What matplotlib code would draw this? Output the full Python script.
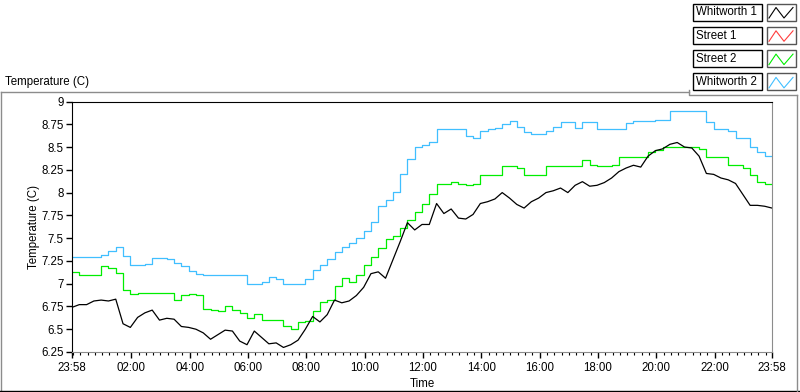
import numpy as np
import pandas as pd
import matplotlib
matplotlib.use("Agg")
import matplotlib.pyplot as plt
import matplotlib.dates as mdates
from matplotlib.patches import Rectangle
from matplotlib.ticker import FuncFormatter

plt.rcParams['font.family'] = ['Liberation Sans', 'DejaVu Sans']
plt.rcParams['font.size'] = 8.3

series_names = ["Whitworth 1", "Street 1", "Street 2", "Whitworth 2"]
series_colors = ["#000000", "#FF3C3C", "#00EE00", "#40BFFF"]

# readings every 15 minutes from 23:58
whitworth_1 = [
    6.74, 6.77, 6.77, 6.81, 6.82, 6.81, 6.83, 6.56, 6.52, 6.63,
    6.68, 6.71, 6.60, 6.62, 6.61, 6.53, 6.52, 6.50, 6.46, 6.39,
    6.44, 6.49, 6.48, 6.37, 6.33, 6.48, 6.41, 6.34, 6.35, 6.30,
    6.33, 6.38, 6.50, 6.64, 6.58, 6.66, 6.82, 6.79, 6.81, 6.87,
    6.96, 7.11, 7.13, 7.06, 7.26, 7.46, 7.67, 7.59, 7.65, 7.65,
    7.88, 7.77, 7.82, 7.72, 7.71, 7.76, 7.88, 7.90, 7.93, 8.00,
    7.94, 7.87, 7.83, 7.90, 7.94, 8.00, 8.02, 8.05, 8.00, 8.08,
    8.12, 8.07, 8.08, 8.11, 8.16, 8.23, 8.27, 8.30, 8.28, 8.40,
    8.46, 8.48, 8.53, 8.55, 8.50, 8.49, 8.40, 8.21, 8.20, 8.16,
    8.14, 8.10, 7.98, 7.86, 7.86, 7.85, 7.83,
]
street_2 = [
    7.13, 7.10, 7.10, 7.10, 7.19, 7.17, 7.12, 6.93, 6.89, 6.90,
    6.90, 6.90, 6.90, 6.90, 6.82, 6.88, 6.89, 6.88, 6.72, 6.71,
    6.70, 6.75, 6.71, 6.68, 6.62, 6.67, 6.60, 6.60, 6.60, 6.54,
    6.50, 6.58, 6.59, 6.70, 6.80, 6.82, 6.98, 7.06, 7.02, 7.10,
    7.20, 7.29, 7.39, 7.49, 7.52, 7.61, 7.70, 7.79, 7.88, 7.99,
    8.09, 8.09, 8.12, 8.09, 8.08, 8.09, 8.19, 8.19, 8.19, 8.29,
    8.29, 8.27, 8.19, 8.19, 8.19, 8.29, 8.29, 8.29, 8.29, 8.29,
    8.36, 8.30, 8.29, 8.29, 8.30, 8.39, 8.39, 8.39, 8.39, 8.45,
    8.47, 8.50, 8.50, 8.50, 8.50, 8.50, 8.48, 8.39, 8.39, 8.39,
    8.30, 8.30, 8.27, 8.19, 8.12, 8.09, 8.09,
]
whitworth_2 = [
    7.29, 7.29, 7.29, 7.29, 7.31, 7.36, 7.40, 7.30, 7.21, 7.20,
    7.22, 7.28, 7.28, 7.27, 7.23, 7.19, 7.14, 7.11, 7.10, 7.10,
    7.10, 7.10, 7.10, 7.10, 7.00, 7.00, 7.02, 7.07, 7.05, 7.00,
    7.00, 7.00, 7.05, 7.15, 7.20, 7.27, 7.35, 7.40, 7.45, 7.50,
    7.58, 7.68, 7.85, 7.92, 8.01, 8.20, 8.37, 8.50, 8.52, 8.56,
    8.70, 8.70, 8.70, 8.70, 8.62, 8.60, 8.68, 8.70, 8.71, 8.75,
    8.79, 8.72, 8.66, 8.64, 8.64, 8.68, 8.72, 8.78, 8.78, 8.71,
    8.78, 8.77, 8.70, 8.70, 8.70, 8.70, 8.76, 8.79, 8.79, 8.79,
    8.80, 8.80, 8.90, 8.90, 8.90, 8.90, 8.90, 8.78, 8.70, 8.70,
    8.68, 8.60, 8.60, 8.50, 8.45, 8.40, 8.40,
]

times = pd.date_range("2013-03-01 23:58", periods=len(whitworth_1), freq="15min")

W, H = 800, 392
fig = plt.figure(figsize=(W / 100, H / 100), dpi=100)

# panel frame / legend drawn in pixel coordinates
frame = fig.add_axes([0, 0, 1, 1])
frame.set_xlim(0, W)
frame.set_ylim(H, 0)
frame.axis('off')
gray = "#8c8c8c"
frame.plot([0.5, 689], [92, 92], color=gray, lw=1)
frame.plot([0.5, 0.5], [92, H], color=gray, lw=1)
frame.plot([0, W], [391, 391], color="black", lw=1)
frame.plot([689, 689, 797], [90, 95, 95], color=gray, lw=1)
frame.plot([797, 797], [95, H], color=gray, lw=1)
frame.text(5, 82, "Temperature (C)", ha="left", va="center")

for i, (name, col) in enumerate(zip(series_names, series_colors)):
    y0 = 3.5 + 23.3 * i
    frame.add_patch(Rectangle((693, y0), 69, 17, facecolor="white",
                              edgecolor="black", lw=1))
    frame.text(695.5, y0 + 8.8, name, ha="left", va="center")
    frame.add_patch(Rectangle((767, y0), 29, 17, facecolor="white",
                              edgecolor="#555555", lw=1))
    frame.plot([769, 776, 784, 793], [y0 + 14.5, y0 + 4, y0 + 14.5, y0 + 4],
               color=col, lw=0.8)

ax = fig.add_axes([72 / W, 1 - 352 / H, 700 / W, (352 - 101.5) / H])
ax.plot(times, whitworth_2, color=series_colors[3], lw=0.9, drawstyle="steps-post")
ax.plot(times, street_2, color=series_colors[2], lw=0.9, drawstyle="steps-post")
ax.plot(times, whitworth_1, color=series_colors[0], lw=0.9)

ax.set_xlim(times[0], times[-1])
ax.set_ylim(6.25, 9)
ax.set_yticks(np.arange(6.25, 9.01, 0.25))
ax.yaxis.set_major_formatter(FuncFormatter(lambda v, _: f"{v:g}"))

hours = pd.date_range("2013-03-02 02:00", "2013-03-02 22:00", freq="2h")
ax.set_xticks([times[0]] + list(hours) + [times[-1]])
ax.xaxis.set_major_formatter(mdates.DateFormatter("%H:%M"))
ax.xaxis.set_minor_locator(mdates.MinuteLocator(byminute=[0, 15, 30, 45]))

for side in ("top", "left"):
    ax.spines[side].set_color("black")
for side in ("right", "bottom"):
    ax.spines[side].set_color(gray)
ax.tick_params(which="major", direction="out", length=4, width=1, pad=2,
               labelsize=8.3, color="black")
ax.tick_params(axis="x", which="minor", direction="out", length=2.5, width=0.8,
               color="black")
ax.tick_params(axis="x", pad=3)

ax.set_ylabel("Temperature (C)", fontsize=8.3)
ax.yaxis.set_label_coords(-0.046, 0.5)
ax.set_xlabel("Time", fontsize=8.3)
ax.xaxis.set_label_coords(0.5, -0.105)

fig.savefig("out.png", dpi=100)
